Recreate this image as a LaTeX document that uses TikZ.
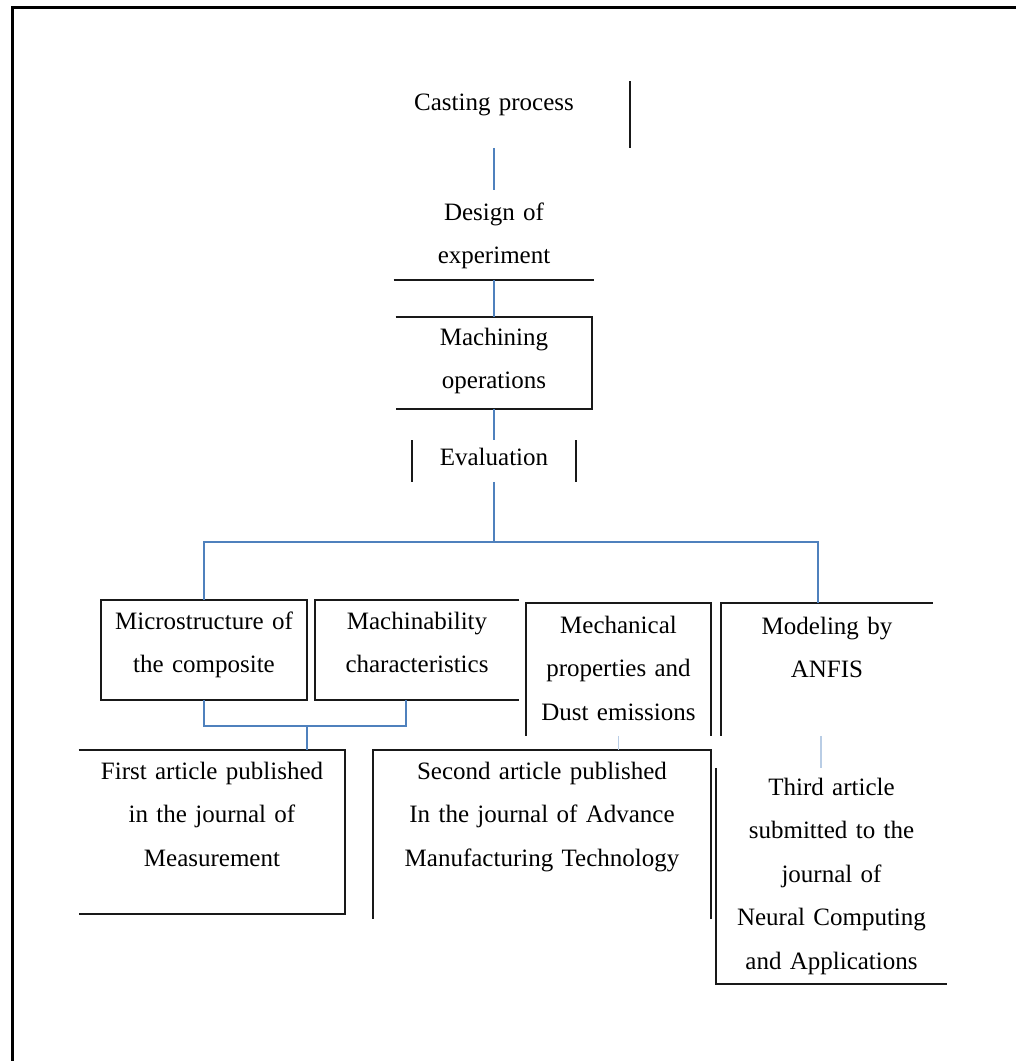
\documentclass[tikz,border=0pt]{standalone}
\usepackage{fontspec}
\setmainfont{Liberation Serif}
\usepackage{tikz}
\usetikzlibrary{positioning}
\definecolor{linkblue}{RGB}{79,129,189}
\tikzstyle{link} = [line width=1pt, draw=linkblue]
\tikzstyle{faintlink} = [line width=0.8pt, draw=linkblue!40]
\tikzstyle{edge} = [line width=1pt, draw=black!90]
\tikzstyle{frame} = [line width=1.5pt, draw=black]

\begin{document}
\begin{tikzpicture}[x=0.5pt, y=-0.5pt]
\tikzset{%
	part/.style = { rectangle, inner sep=0pt, anchor=north, align=center, font=\fontsize{12.5}{21.75}\selectfont }
}
\useasboundingbox (0,0) rectangle (1016,1061);

\node(Cast)			[part, text width=136pt, text height=14.5pt, text depth=18.5pt] at (494,81)
								{Casting process};
\node(Design)		[part, text width=100pt, text height=15pt, text depth=29.5pt] at (494,190)
								{Design of\\experiment};
\node(Mach)			[part, text width=98pt, text height=14pt, text depth=31.5pt] at (494,317)
								{Machining\\operations};
\node(Eval)			[part, text width=82pt, text height=12.5pt, text depth=8pt] at (494,440)
								{Evaluation};

\node(Micro)		[part, text width=103pt, text height=14.5pt, text depth=35pt] at (204,600)
								{Microstructure of\\the composite};
\node(Machin)		[part, text width=102pt, text height=14.5pt, text depth=35pt] at (417,600)
								{Machinability\\characteristics};
\node(Mech)			[part, text width=92.5pt, text height=15pt, text depth=51pt] at (618.5,603)
								{Mechanical\\properties and\\Dust emissions};
\node(Model)		[part, text width=106pt, text height=15.5pt, text depth=50.5pt] at (827,603)
								{Modeling by\\ANFIS};

\node(First)		[part, text width=133pt, text height=14.5pt, text depth=67pt] at (212,750)
								{First article published\\in the journal of\\Measurement};
\node(Second)		[part, text width=169pt, text height=14.5pt, text depth=69.5pt] at (542,750)
								{Second article published\\In the journal of Advance\\Manufacturing Technology};
\node(Third)		[part, text width=115.5pt, text height=13.5pt, text depth=94pt] at (831.5,768)
								{Third article\\submitted to the\\journal of\\Neural Computing\\and Applications};

\coordinate (Bus) at (494,542);
\coordinate (Join) at (307,726);

% frame
\draw [frame]	(12,1061) -- (12,7) -- (1016,7);

% box edges
\draw [edge]	(Cast.north east) -- (Cast.south east);
\draw [edge]	(Design.south west) -- (Design.south east);
\draw [edge]	(Mach.north west) -- (Mach.north east) -- (Mach.south east) -- (Mach.south west);
\draw [edge]	(Eval.north west) -- (Eval.south west);
\draw [edge]	(Eval.north east) -- (Eval.south east);
\draw [edge]	(Micro.north west) rectangle (Micro.south east);
\draw [edge]	(Machin.north east) -- (Machin.north west) -- (Machin.south west) -- (Machin.south east);
\draw [edge]	(Mech.south west) -- (Mech.north west) -- (Mech.north east) -- (Mech.south east);
\draw [edge]	(Model.south west) -- (Model.north west) -- (Model.north east);
\draw [edge]	(First.north west) -- (First.north east) -- (First.south east) -- (First.south west);
\draw [edge]	(Second.south west) -- (Second.north west) -- (Second.north east) -- (Second.south east);
\draw [edge]	(Third.north west) -- (Third.south west) -- (Third.south east);

% connectors
\draw [link]		(Cast) -- (Design);
\draw [link]		(Design) -- (Mach);
\draw [link]		(Mach) -- (Eval);
\draw [link]		(Eval.south) -- (Bus);
\draw [link]		(Micro.north) |- (Bus) -| ([xshift=-4.5pt]Model.north);
\draw [link]		(Micro.south) |- (Join) -| ([xshift=-5.5pt]Machin.south);
\draw [link]		(Join) -- (Join |- First.north);
\draw [faintlink]	(Mech.south) -- (Mech.south |- Second.north);
\draw [faintlink]	([xshift=-3pt]Model.south) -- ([xshift=-3pt]Model.south |- Third.north);

\end{tikzpicture}
\end{document}
